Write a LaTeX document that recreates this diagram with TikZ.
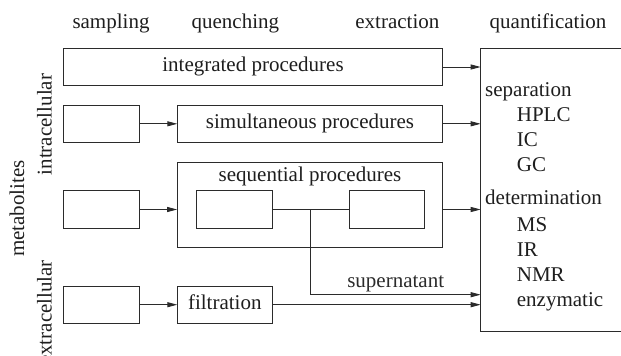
\documentclass[tikz,border=0pt]{standalone}
\usepackage{fontspec}
\setmainfont{Liberation Serif}
\usepackage{tikz}
\usetikzlibrary{arrows.meta, positioning, calc}
\definecolor{inkgrey}{HTML}{2B2B2B}
\definecolor{textgrey}{HTML}{1E1E1E}

\begin{document}
\begin{tikzpicture}[x=1pt, y=1pt, font=\rmfamily\fontsize{21pt}{25pt}\selectfont, text=textgrey,
    box/.style={rectangle, draw=inkgrey, line width=0.9pt, outer sep=0pt, inner sep=0pt,
      minimum width=76pt, minimum height=37.5pt, text height=14pt, text depth=4.5pt},
    conn/.style={-{Triangle[length=10pt, width=5pt]}, line width=0.9pt, inkgrey},
    lbl/.style={inner sep=2pt},
    side/.style={rotate=90, anchor=base, inner sep=0pt}]

    \useasboundingbox (0,0) rectangle (621,-356);

    % column heads
    \node (hsamp) [anchor=base] at (111,-28.3) {sampling};
    \node (hquench) [anchor=base] at (235.4,-28.3) {quenching};
    \node (hextract) [anchor=base] at (397.4,-28.3) {extraction};
    \node (hquant) [anchor=base] at (548,-28.3) {quantification};

    % side labels
    \node (metab) [side] at (24,-208.5) {metabolites};
    \node (intra) [side] at (51.7,-124.5) {intracellular};
    \node (extra) [side] at (51.7,-312.5) {extracellular};

    % integrated
    \node (integ) [box, minimum width=379.4pt] at (253,-67) {integrated procedures};

    % simultaneous
    \node (samp1) [box, below=19.3pt of integ.south west, anchor=north west] {};
    \node (simul) [box, minimum width=265.4pt, right=38pt of samp1] {simultaneous procedures};

    % sequential
    \node (seq) [box, minimum width=265.7pt, minimum height=85pt, below=19.8pt of simul] {};
    \node (seqlbl) [anchor=base] at ([yshift=-18.7pt]seq.north) {sequential procedures};
    \node (samp2) [box, below=48.2pt of samp1] {};
    \node (inner1) [box, minimum width=76.3pt, right=56.7pt of samp2] {};
    \node (inner2) [box, minimum width=75.4pt, right=76.9pt of inner1] {};

    % extracellular
    \node (samp3) [box, below=57.7pt of samp2] {};
    \node (filt) [box, minimum width=95pt, right=38pt of samp3] {filtration};

    % quantification
    \node (quant) [box, minimum width=150pt, minimum height=283.4pt, anchor=north west]
      at (480.7,-48.3) {};
    \node (methods) [anchor=north west, align=left, inner sep=0pt] at (485,-82.4)
      {separation\\
       \hspace*{31.7pt}HPLC\\
       \hspace*{31.7pt}IC\\
       \hspace*{31.7pt}GC\\[8.3pt]
       determination\\[2pt]
       \hspace*{31.7pt}MS\\
       \hspace*{31.7pt}IR\\
       \hspace*{31.7pt}NMR\\
       \hspace*{31.7pt}enzymatic};

    % connections
    \draw[conn] (integ) -- (integ -| quant.west);
    \draw[conn] (samp1) -- (simul);
    \draw[conn] (simul) -- (simul -| quant.west);
    \draw[conn] (samp2) -- (samp2 -| seq.west);
    \draw[conn] (inner2 -| seq.east) -- (inner2 -| quant.west);
    \draw[line width=0.9pt, inkgrey] (inner1) -- (inner2);
    \coordinate (tap) at ($(inner1.east)!0.5!(inner2.west)$);
    \draw[conn] (tap) |- ([yshift=10pt]filt -| quant.west)
      node[lbl, pos=0.75, above] {supernatant};
    \draw[conn] (samp3) -- (filt);
    \draw[conn] (filt) -- (filt -| quant.west);
\end{tikzpicture}
\end{document}
